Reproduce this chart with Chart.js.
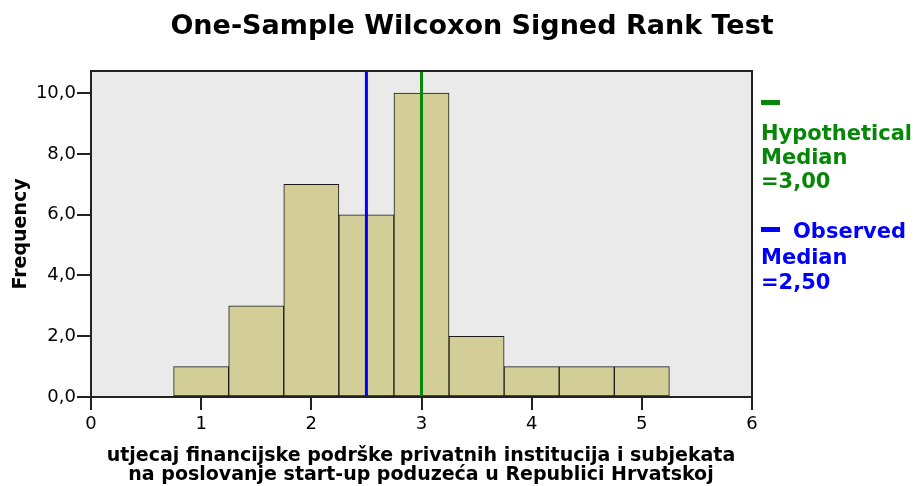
<!DOCTYPE html>
<html>
<head>
<meta charset="utf-8">
<script src="https://cdn.jsdelivr.net/npm/chart.js@4"></script>
<style>
  body { margin: 0; background: #fff; }
  #wrap { width: 916px; height: 486px; position: relative; }
</style>
</head>
<body>
<div id="wrap"><canvas id="histChart"></canvas></div>
<script>
// histogram bins (centre of each bin) and counts
const binCenters = [1, 1.5, 2, 2.5, 3, 3.5, 4, 4.5, 5];
const frequencies = [1, 3, 7, 6, 10, 2, 1, 1, 1];
const hypotheticalMedian = 3.0;
const observedMedian = 2.5;
const xTitleLines = ['utjecaj financijske podrške privatnih institucija i subjekata',
                     'na poslovanje start-up poduzeća u Republici Hrvatskoj'];
const chartTitle = 'One-Sample Wilcoxon Signed Rank Test';
const legendGreen = ['Hypothetical', 'Median', '=3,00'];
const legendBlue = ['Observed', 'Median', '=2,50'];

const FONT = '"DejaVu Sans", Arial, sans-serif';
const GREEN = '#078707';
const BLUE = '#0000ff';

const framePlugin = {
    id: 'frame',
    beforeDatasetsDraw(chart) {
        const { ctx, chartArea: a } = chart;
        ctx.save();
        ctx.fillStyle = '#eaeaea';
        ctx.fillRect(a.left, a.top, a.right - a.left, a.bottom - a.top);
        ctx.restore();
    },
    afterDatasetsDraw(chart) {
        const { ctx, chartArea: a, scales } = chart;
        ctx.save();
        // median lines
        [[observedMedian, BLUE], [hypotheticalMedian, GREEN]].forEach(([v, c]) => {
            const px = scales.x.getPixelForValue(v);
            ctx.strokeStyle = c;
            ctx.lineWidth = 3;
            ctx.beginPath();
            ctx.moveTo(px, a.top);
            ctx.lineTo(px, a.bottom);
            ctx.stroke();
        });
        ctx.strokeStyle = '#222';
        ctx.lineWidth = 2;
        ctx.strokeRect(a.left, a.top, a.right - a.left, a.bottom - a.top);
        ctx.restore();
    },
    afterDraw(chart) {
        const { ctx } = chart;
        ctx.save();
        // title
        ctx.fillStyle = '#000';
        ctx.textAlign = 'center';
        ctx.textBaseline = 'alphabetic';
        ctx.font = 'bold 27px ' + FONT;
        ctx.fillText(chartTitle, 472, 34);
        // x axis title
        ctx.font = 'bold 19px ' + FONT;
        ctx.fillText(xTitleLines[0], 421, 461);
        ctx.fillText(xTitleLines[1], 421, 480);
        // legend
        ctx.textAlign = 'left';
        ctx.font = 'bold 21px ' + FONT;
        ctx.fillStyle = GREEN;
        ctx.fillRect(761, 100, 19, 5);
        [140, 164, 188].forEach((y, i) => ctx.fillText(legendGreen[i], 761, y));
        ctx.fillStyle = BLUE;
        ctx.fillRect(761, 227, 19, 5);
        ctx.fillText(legendBlue[0], 793, 238);
        ctx.fillText(legendBlue[1], 761, 264);
        ctx.fillText(legendBlue[2], 761, 289);
        ctx.restore();
    }
};

new Chart(document.getElementById('histChart'), {
    type: 'bar',
    data: {
        datasets: [{
            data: binCenters.map((x, i) => ({ x, y: frequencies[i] })),
            backgroundColor: '#d3ce98',
            borderColor: '#1a1a1a',
            borderWidth: 1,
            borderSkipped: false,
            barPercentage: 1,
            categoryPercentage: 1
        }]
    },
    options: {
        responsive: true,
        maintainAspectRatio: false,
        animation: false,
        layout: { padding: { left: 0, right: 164, top: 71, bottom: 0 } },
        plugins: { legend: { display: false }, title: { display: false }, tooltip: { enabled: false } },
        scales: {
            x: {
                type: 'linear',
                min: 0, max: 6,
                offset: false,
                grid: { offset: false, drawOnChartArea: false, drawTicks: true, tickLength: 13, color: '#222', lineWidth: 2 },
                border: { display: false },
                ticks: { stepSize: 1, color: '#000', padding: 4, font: { family: FONT, size: 18 } },
                afterFit: s => { s.height = 89; }
            },
            y: {
                min: 0, max: 10.73,
                grid: { drawOnChartArea: false, drawTicks: true, tickLength: 14, color: '#222', lineWidth: 2 },
                border: { display: false },
                ticks: {
                    stepSize: 2, includeBounds: false, color: '#000', padding: 1,
                    font: { family: FONT, size: 18 },
                    callback: v => v.toFixed(1).replace('.', ',')
                },
                title: { display: true, text: 'Frequency', color: '#000', padding: { top: 10, bottom: 0 }, font: { family: FONT, size: 19, weight: 'bold' } },
                afterFit: s => { s.width = 91; }
            }
        }
    },
    plugins: [framePlugin]
});
</script>
</body>
</html>
